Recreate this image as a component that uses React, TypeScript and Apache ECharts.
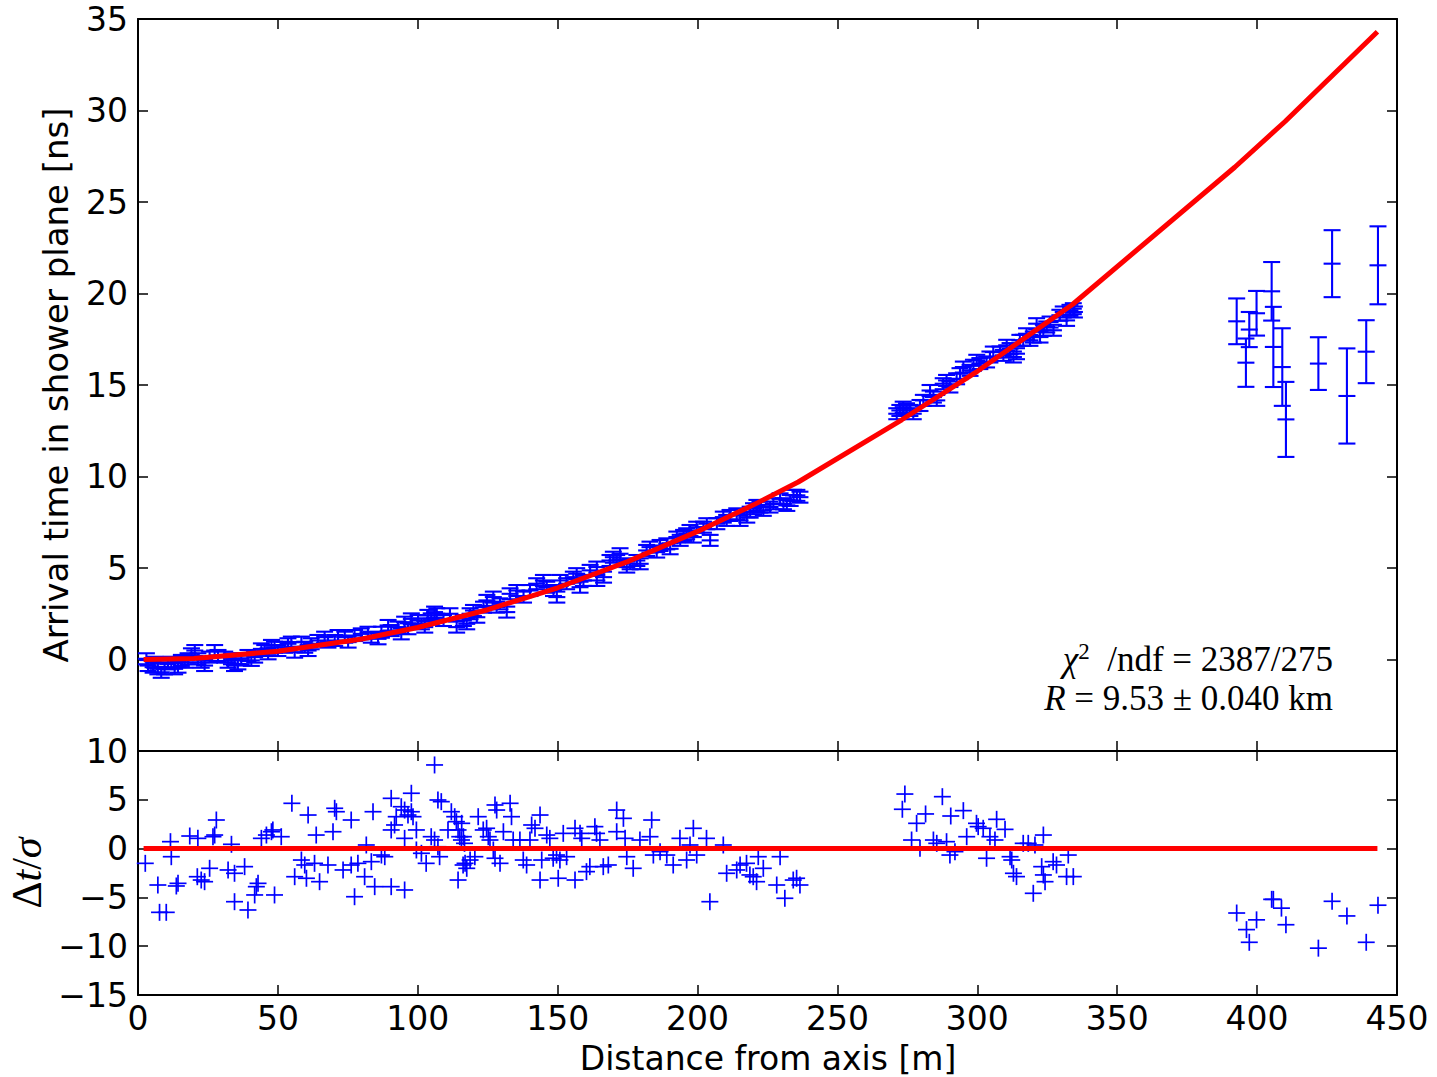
import React, { useEffect, useRef } from 'react';
import * as echarts from 'echarts';

// Fit curve (distance [m], arrival time [ns])
const curveX = [2, 20, 50, 80, 100, 125, 150, 175, 200, 220, 236, 273, 300, 334, 392, 410, 443];
const curveT = [0.0, 0.06, 0.45, 1.12, 1.75, 2.72, 3.92, 5.35, 7.0, 8.45, 9.7, 13.1, 15.75, 19.4, 26.9, 29.4, 34.3];

// Dense upper-panel points [distance, time]
const upNear: number[][] = [
  [3.0,0.04],[5.4,-0.42],[7.1,-0.51],[9.5,-0.51],[11.9,-0.15],[14.3,-0.42],[16.7,-0.15],[19.1,0.31],[21.4,0.04],[23.8,-0.33],[25.6,0.13],[27.4,0.49],[32.2,-0.15],[34.5,-0.33],[36.9,0.04],[40.5,-0.05],[44.1,0.58],[46.5,0.31],[48.8,0.67],[53.6,0.86],[56.0,0.4],[59.6,0.67],[61.9,0.86],[66.7,1.22],[70.3,1.04],[73.9,1.22],[77.4,1.31],[82.2,1.49],[85.8,1.13],[89.4,1.86],[92.9,1.77],[95.3,2.04],[97.7,2.22],[101.3,1.95],[103.6,2.41],[106.0,2.59],
  [3.6,-0.33],[6.0,-0.15],[8.3,-0.7],[10.7,-0.24],[13.1,-0.51],[15.5,-0.05],[17.9,0.04],[20.3,0.49],[22.6,-0.15],[28.6,0.22],[31.0,0.13],[33.4,0.04],[35.7,-0.24],[39.3,0.22],[41.7,0.13],[45.3,0.49],[47.7,0.77],[50.0,0.49],[52.4,0.67],[54.8,0.95],[58.4,0.95],[60.8,0.49],[64.3,1.04],[67.9,0.95],[71.5,1.31],[75.1,0.95],[79.8,1.4],[83.4,1.22],[87.0,1.49],[90.5,1.58],[94.1,1.4],[96.5,1.68],[100.1,2.13],[102.5,1.77],[104.8,2.22]
];
const upMid: number[][] = [
  [113.9,1.77],[116.3,2.13],[118.7,2.5],[121.1,2.31],[124.7,3.23],[128.2,2.86],[133.0,3.59],[131.8,2.59],[140.1,3.77],[142.5,4.14],[146.1,3.95],[149.7,3.41],[150.9,4.32],[155.6,4.5],[158.0,3.95],[161.6,4.87],[164.0,5.05],[166.4,4.5],[169.9,5.59],[172.3,5.78],[175.9,5.23],[178.3,5.41],[183.0,6.14],[186.6,6.23],[190.2,6.05],[192.6,6.69],[195.0,6.78],[197.3,7.05],[199.7,7.23],[203.3,7.42],[204.5,6.51],[209.2,7.78],[211.6,7.87],[215.2,7.6],[218.8,8.05],[221.2,8.42],[223.5,8.15],[227.1,8.51],[230.7,8.51],[233.1,8.69],[235.5,8.97],[236.6,8.87],
  [106.8,2.5],[109.2,2.13],[111.5,2.5],[117.5,1.95],[119.9,2.68],[123.5,2.86],[127.0,3.41],[129.4,3.04],[135.4,3.77],[137.8,3.41],[144.9,4.32],[148.5,3.77],[153.2,4.14],[156.8,4.69],[159.2,4.32],[164.0,4.32],[168.7,5.41],[171.1,5.41],[174.7,5.05],[179.5,5.23],[181.8,5.96],[185.4,5.87],[189.0,6.32],[193.8,6.51],[196.1,6.87],[198.5,6.69],[202.1,7.23],[206.9,7.42],[210.4,7.6],[214.0,7.96],[217.6,7.78],[220.0,8.24],[222.3,8.33],[225.9,8.33],[229.5,8.78],[231.9,8.42],[234.3,8.97]
];
const upFar: number[][] = [
  [272.3,13.61],[274.7,13.7],[277.1,13.43],[280.7,14.16],[284.3,14.34],[287.8,15.07],[290.2,14.89],[293.8,15.62],[297.4,15.8],[300.9,16.17],[304.5,16.53],[308.1,16.8],[311.7,16.99],[312.9,16.53],[316.4,17.44],[320.0,17.62],[323.6,17.99],[321.2,18.35],[326.0,18.44],[329.5,18.81],[333.1,19.08],[334.7,18.99],
  [271.2,13.43],[273.5,13.79],[275.9,13.61],[279.5,13.88],[283.1,14.7],[285.5,14.16],[289.0,15.25],[292.6,15.34],[295.0,15.98],[298.6,16.08],[299.8,16.35],[303.3,16.26],[305.7,16.8],[309.3,16.62],[310.5,17.17],[314.0,16.71],[315.2,17.44],[317.6,17.8],[318.8,17.44],[322.4,17.62],[324.8,18.17],[327.2,17.99],[330.7,18.99],[331.9,18.53],[334.3,19.17]
];
const denseErr = 0.3;

// Outlying stations with large error bars [distance, time, error]
const farPts: number[][] = [
  [392.7,18.48,1.25],[396.0,16.22,1.32],[397.2,18.03,0.96],[399.8,18.92,1.22],[405.2,20.12,1.6],[405.8,17.08,2.19],[409.0,15.98,2.12],[410.3,13.12,2.05],[421.9,16.17,1.44],[426.8,21.63,1.83],[432.1,14.4,2.6],[439.0,16.82,1.72],[443.2,21.54,2.13]
];

// Residuals [distance, dt/sigma]
const resA: number[][] = [
  [2.6,-1.51],[11.6,0.71],[11.9,-0.83],[7.1,-3.73],[13.7,-3.83],[14.3,-3.56],[7.7,-6.53],[10.1,-6.53],[18.5,1.29],[21.4,1.05],[28.0,2.93],[27.4,1.39],[26.8,1.22],[33.4,0.44],[21.2,-2.88],[22.6,-3.22],[23.8,-3.39],[25.6,-2.02],[32.2,-2.19],[34.5,-2.53],[38.1,-1.85],[34.5,-5.44],[39.3,-6.29],[42.3,-3.9],[41.7,-4.75],[42.9,-3.56],[48.8,-4.75],[44.1,1.05],[45.9,1.39],[47.7,1.73],[48.2,1.91],[51.2,1.22],[55.0,4.64],[60.8,3.44],[63.7,1.39],[70.3,4.13],[70.9,3.78],[69.7,1.73],[76.2,2.93],[56.0,-2.88],[58.4,-1.17],[59.6,-1.68],[60.2,-3.04],[64.9,-3.39],[63.1,-1.51],[67.9,-1.68],[73.3,-2.19],[76.2,-1.68],[78.6,-1.51],[77.4,-4.93],[81.0,-2.88],[81.6,0.37],[84.0,3.78],[84.6,-3.9],[83.4,-1.34],[87.0,-0.66],[88.2,-0.83],[90.5,-3.9],[90.5,5.15],[92.3,3.27],[91.7,2.42],[94.1,4.29],[95.3,3.95],[96.5,3.44],[97.7,5.67],[97.7,3.78],[98.3,3.27],[99.5,1.91],[95.3,1.05],[90.5,1.91],[95.3,-4.24],[99.5,-0.14],[101.3,-0.48],[103.0,-1.51],[106.0,8.57],[107.2,4.98],[108.4,4.81],[104.8,1.22],[106.0,0.88],[107.2,0.19],[107.8,-0.83],[112.0,3.78],[113.2,3.27],[113.8,2.76],[114.4,1.91],[115.0,1.22],[115.6,0.88],[116.7,0.54],[114.4,-3.22],[116.2,-1.68],[110.8,1.91]
];
const resB: number[][] = [
  [115.7,2.59],[116.3,1.22],[116.9,-1.51],[117.5,-2.02],[118.7,-1.17],[120.4,-0.83],[121.6,3.27],[123.4,1.91],[124.6,2.08],[125.2,1.22],[125.8,0.88],[127.0,-0.14],[127.6,4.47],[128.2,3.95],[127.6,-0.99],[130.6,1.73],[133.0,4.64],[133.5,3.27],[129.4,-1.51],[134.1,0.88],[136.5,0.88],[137.7,-1.17],[138.9,-1.68],[140.1,0.88],[140.7,2.42],[141.9,2.08],[143.7,3.44],[143.7,-3.22],[144.3,-1.17],[146.1,1.39],[147.2,1.05],[148.4,-0.99],[149.6,-0.66],[150.2,-3.04],[150.8,-1.17],[152.0,1.56],[153.2,-0.83],[156.2,-3.22],[156.2,2.08],[158.0,1.56],[158.6,1.05],[160.3,-2.36],[161.5,-1.85],[163.3,2.25],[163.9,1.56],[165.1,0.88],[166.3,-1.85],[168.1,-1.68],[171.1,3.95],[173.5,3.1],[171.1,1.73],[174.1,1.05],[174.7,-0.83],[177.0,-2.02],[179.4,0.88],[183.0,1.22],[183.6,2.93],[184.2,-0.66],[186.6,-0.31],[189.0,-0.66],[191.3,-1.68],[193.7,1.05],[196.1,-1.17],[197.3,0.37],[198.5,2.08],[199.7,-0.66],[203.2,1.05],[204.4,-5.44],[209.2,0.37],[210.4,-2.53],[214.0,-2.19],[215.2,-1.68],[217.5,-1.51],[218.7,-2.7],[221.1,-3.39],[221.7,-0.83],[223.5,-2.02],[228.3,-3.73],[229.5,-0.83],[231.2,-5.09],[235.4,-3.04],[236.6,-3.73],[234.2,-3.22],[219.9,-2.88]
];
const resC: number[][] = [
  [274.1,5.59],[273.2,4.03],[278.3,2.59],[281.5,3.55],[287.5,5.32],[290.5,3.34],[295.0,3.89],[276.5,0.88],[279.5,0.03],[284.3,0.88],[285.5,0.54],[289.0,0.71],[290.2,-0.66],[292.0,-0.31],[296.2,1.22],[299.7,2.59],[300.3,2.25],[302.1,2.08],[303.3,-0.99],[304.5,1.22],[306.9,3.0],[306.3,0.88],[309.9,1.97],[311.7,-0.83],[312.3,-1.17],[312.9,-2.53],[314.0,-2.87],[316.4,0.54],[318.2,0.54],[320.6,0.37],[320.0,-4.58],[323.6,1.39],[323.0,-1.85],[323.6,-2.7],[324.2,-3.39],[327.1,-1.34],[328.3,-1.68],[332.5,-0.66],[331.9,-2.87],[334.3,-2.87]
];
const resFar: number[][] = [
  [392.7,-6.6],[396.2,-8.3],[397.2,-9.6],[399.8,-7.3],[405.2,-5.2],[405.8,-5.2],[408.7,-6.1],[410.3,-7.8],[421.9,-10.2],[426.8,-5.4],[432.1,-6.9],[439.0,-9.6],[443.2,-5.8]
];
const zeroLine = [[2, 0], [443, 0]];

const BLUE = '#0000ff';
const SANS = 'DejaVu Sans';
const SERIF = 'Liberation Serif';

function errRender(params: any, api: any) {
  const x = api.value(0), y = api.value(1), e = api.value(2);
  const c = api.coord([x, y]);
  const t = api.coord([x, y + e]);
  const b = api.coord([x, y - e]);
  const h = 8.5;
  const st = { stroke: BLUE, lineWidth: 2.1, fill: null };
  return {
    type: 'group',
    children: [
      { type: 'line', shape: { x1: c[0], y1: t[1], x2: c[0], y2: b[1] }, style: st },
      { type: 'line', shape: { x1: c[0] - h, y1: t[1], x2: c[0] + h, y2: t[1] }, style: st },
      { type: 'line', shape: { x1: c[0] - h, y1: b[1], x2: c[0] + h, y2: b[1] }, style: st },
      { type: 'line', shape: { x1: c[0] - h, y1: c[1], x2: c[0] + h, y2: c[1] }, style: st },
    ],
  };
}

function plusRender(params: any, api: any) {
  const c = api.coord([api.value(0), api.value(1)]);
  const h = 8.5;
  const st = { stroke: BLUE, lineWidth: 1.7, fill: null };
  return {
    type: 'group',
    children: [
      { type: 'line', shape: { x1: c[0] - h, y1: c[1], x2: c[0] + h, y2: c[1] }, style: st },
      { type: 'line', shape: { x1: c[0], y1: c[1] - h, x2: c[0], y2: c[1] + h }, style: st },
    ],
  };
}

const fmt = (v: number) => String(v).replace('-', '\u2212');

function xAx(grid: number, pos: string, labels: boolean) {
  return {
    type: 'value', gridIndex: grid, position: pos, min: 0, max: 450, interval: 50,
    axisLine: { show: true, onZero: false, lineStyle: { color: '#000', width: 2 } },
    axisTick: { show: true, inside: true, length: 10, lineStyle: { color: '#000', width: 1.5 } },
    axisLabel: { show: labels, fontFamily: SANS, fontSize: 33, color: '#000', margin: 7, formatter: fmt },
    splitLine: { show: false },
  };
}
function yAx(grid: number, pos: string, min: number, max: number, labels: boolean, hideMin: boolean) {
  return {
    type: 'value', gridIndex: grid, position: pos, min, max, interval: 5,
    axisLine: { show: true, onZero: false, lineStyle: { color: '#000', width: 2 } },
    axisTick: { show: true, inside: true, length: 10, lineStyle: { color: '#000', width: 1.5 } },
    axisLabel: {
      show: labels, fontFamily: SANS, fontSize: 33, color: '#000', margin: 10,
      formatter: (v: number) => (hideMin && v === min ? '' : fmt(v)),
    },
    splitLine: { show: false },
  };
}

export default function App() {
  const ref = useRef<HTMLDivElement>(null);
  useEffect(() => {
    const chart = echarts.init(ref.current!, null, { renderer: 'svg' });
    const dense = [...upNear, ...upMid, ...upFar].map((p) => [p[0], p[1], denseErr]);
    const resAll = [...resA, ...resB, ...resC, ...resFar];
    const curve = curveX.map((x, i) => [x, curveT[i]]);
    chart.setOption({
      animation: false,
      backgroundColor: '#ffffff',
      grid: [
        { left: 138, top: 19, width: 1259, height: 732 },
        { left: 138, top: 751, width: 1259, height: 244 },
      ],
      xAxis: [xAx(0, 'bottom', false), xAx(0, 'top', false), xAx(1, 'bottom', true), xAx(1, 'top', false)],
      yAxis: [
        yAx(0, 'left', -5, 35, true, true), yAx(0, 'right', -5, 35, false, true),
        yAx(1, 'left', -15, 10, true, false), yAx(1, 'right', -15, 10, false, false),
      ],
      series: [
        { type: 'custom', xAxisIndex: 0, yAxisIndex: 0, data: dense, renderItem: errRender, encode: { x: 0, y: 1 }, z: 2 },
        { type: 'custom', xAxisIndex: 0, yAxisIndex: 0, data: farPts, renderItem: errRender, encode: { x: 0, y: 1 }, z: 2 },
        {
          type: 'line', xAxisIndex: 0, yAxisIndex: 0, data: curve, symbol: 'none', showSymbol: false,
          lineStyle: { color: '#ff0000', width: 5 }, z: 5,
        },
        { type: 'custom', xAxisIndex: 2, yAxisIndex: 2, data: resAll, renderItem: plusRender, encode: { x: 0, y: 1 }, z: 2 },
        {
          type: 'line', xAxisIndex: 2, yAxisIndex: 2, data: zeroLine, symbol: 'none', showSymbol: false,
          lineStyle: { color: '#ff0000', width: 5 }, z: 5,
        },
      ],
      graphic: [
        {
          type: 'text', x: 56, y: 385, rotation: Math.PI / 2,
          style: { text: 'Arrival time in shower plane [ns]', font: `34px "${SANS}"`, fill: '#000', align: 'center', verticalAlign: 'middle' },
        },
        {
          type: 'text', x: 27, y: 873, rotation: Math.PI / 2,
          style: {
            text: '{n|\u0394}{i|t}{n|/}{i|\u03c3}', align: 'center', verticalAlign: 'middle',
            rich: {
              n: { fontFamily: SERIF, fontSize: 42, fill: '#000' },
              i: { fontFamily: SERIF, fontSize: 42, fontStyle: 'italic', fill: '#000' },
            },
          },
        },
        {
          type: 'text', x: 768, y: 1058,
          style: { text: 'Distance from axis [m]', font: `33px "${SANS}"`, fill: '#000', align: 'center', verticalAlign: 'middle' },
        },
        {
          type: 'text', x: 1333, y: 659,
          style: {
            text: '{i|\u03c7}{s|2}{n|  /ndf = 2387/275}', align: 'right', verticalAlign: 'middle',
            rich: {
              n: { fontFamily: SERIF, fontSize: 35, fill: '#000' },
              i: { fontFamily: SERIF, fontSize: 35, fontStyle: 'italic', fill: '#000' },
              s: { fontFamily: SERIF, fontSize: 23, fill: '#000', verticalAlign: 'top', padding: [0, 0, 16, 0] },
            },
          },
        },
        {
          type: 'text', x: 1333, y: 698,
          style: {
            text: '{i|R}{n| = 9.53 \u00b1 0.040 km}', align: 'right', verticalAlign: 'middle',
            rich: {
              n: { fontFamily: SERIF, fontSize: 35, fill: '#000' },
              i: { fontFamily: SERIF, fontSize: 35, fontStyle: 'italic', fill: '#000' },
            },
          },
        },
      ],
    });
    return () => chart.dispose();
  }, []);
  return (
    <div
      ref={ref}
      style={{ position: 'fixed', left: 0, top: 0, width: 1437, height: 1077, background: '#fff' }}
    />
  );
}
